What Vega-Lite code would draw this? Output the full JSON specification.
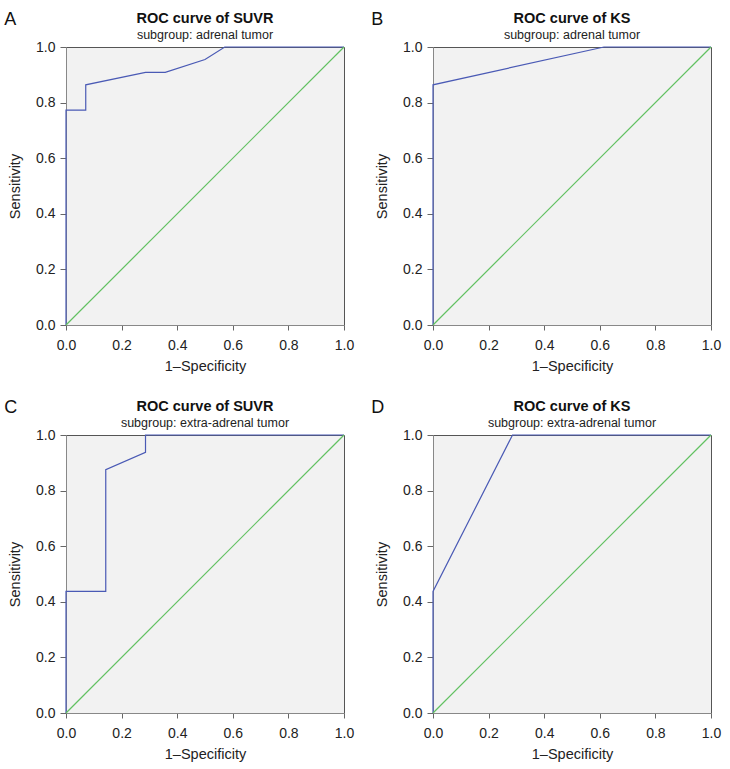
{
  "$schema": "https://vega.github.io/schema/vega-lite/v6.json",
  "padding": {"left": 3, "top": 10, "right": 5, "bottom": 5},
  "background": "white",
  "datasets": {
    "roc": [
      {"panel": "A", "series": "ROC", "step": 1, "fpr": 0, "tpr": 0},
      {"panel": "A", "series": "ROC", "step": 2, "fpr": 0, "tpr": 0.773},
      {"panel": "A", "series": "ROC", "step": 3, "fpr": 0.071, "tpr": 0.773},
      {"panel": "A", "series": "ROC", "step": 4, "fpr": 0.071, "tpr": 0.864},
      {"panel": "A", "series": "ROC", "step": 5, "fpr": 0.286, "tpr": 0.909},
      {"panel": "A", "series": "ROC", "step": 6, "fpr": 0.357, "tpr": 0.909},
      {"panel": "A", "series": "ROC", "step": 7, "fpr": 0.5, "tpr": 0.955},
      {"panel": "A", "series": "ROC", "step": 8, "fpr": 0.571, "tpr": 1},
      {"panel": "A", "series": "ROC", "step": 9, "fpr": 1, "tpr": 1},
      {"panel": "A", "series": "Reference", "step": 1, "fpr": 0, "tpr": 0},
      {"panel": "A", "series": "Reference", "step": 2, "fpr": 1, "tpr": 1},
      {"panel": "B", "series": "ROC", "step": 1, "fpr": 0, "tpr": 0},
      {"panel": "B", "series": "ROC", "step": 2, "fpr": 0, "tpr": 0.864},
      {"panel": "B", "series": "ROC", "step": 3, "fpr": 0.615, "tpr": 1},
      {"panel": "B", "series": "ROC", "step": 4, "fpr": 1, "tpr": 1},
      {"panel": "B", "series": "Reference", "step": 1, "fpr": 0, "tpr": 0},
      {"panel": "B", "series": "Reference", "step": 2, "fpr": 1, "tpr": 1},
      {"panel": "C", "series": "ROC", "step": 1, "fpr": 0, "tpr": 0},
      {"panel": "C", "series": "ROC", "step": 2, "fpr": 0, "tpr": 0.4375},
      {"panel": "C", "series": "ROC", "step": 3, "fpr": 0.143, "tpr": 0.4375},
      {"panel": "C", "series": "ROC", "step": 4, "fpr": 0.143, "tpr": 0.875},
      {"panel": "C", "series": "ROC", "step": 5, "fpr": 0.286, "tpr": 0.9375},
      {"panel": "C", "series": "ROC", "step": 6, "fpr": 0.286, "tpr": 1},
      {"panel": "C", "series": "ROC", "step": 7, "fpr": 1, "tpr": 1},
      {"panel": "C", "series": "Reference", "step": 1, "fpr": 0, "tpr": 0},
      {"panel": "C", "series": "Reference", "step": 2, "fpr": 1, "tpr": 1},
      {"panel": "D", "series": "ROC", "step": 1, "fpr": 0, "tpr": 0},
      {"panel": "D", "series": "ROC", "step": 2, "fpr": 0, "tpr": 0.4375},
      {"panel": "D", "series": "ROC", "step": 3, "fpr": 0.286, "tpr": 1},
      {"panel": "D", "series": "ROC", "step": 4, "fpr": 1, "tpr": 1},
      {"panel": "D", "series": "Reference", "step": 1, "fpr": 0, "tpr": 0},
      {"panel": "D", "series": "Reference", "step": 2, "fpr": 1, "tpr": 1}
    ],
    "letters": [
      {"panel": "A", "label": "A"},
      {"panel": "B", "label": "B"},
      {"panel": "C", "label": "C"},
      {"panel": "D", "label": "D"}
    ]
  },
  "spacing": 25,
  "vconcat": [
    {
      "spacing": 15,
      "hconcat": [
        {
          "width": 278, "height": 278,
          "title": {"text": "ROC curve of SUVR", "subtitle": "subgroup: adrenal tumor"},
          "layer": [
            {
              "data": {"name": "roc"},
              "transform": [{"filter": "datum.panel == 'A'"}],
              "mark": {"type": "line", "strokeWidth": 1.2},
              "encoding": {
                "x": {"field": "fpr", "type": "quantitative", "scale": {"domain": [0, 1]}, "axis": {"title": "1\u2013Specificity", "values": [0, 0.2, 0.4, 0.6, 0.8, 1], "format": ".1f"}},
                "y": {"field": "tpr", "type": "quantitative", "scale": {"domain": [0, 1]}, "axis": {"title": "Sensitivity", "values": [0, 0.2, 0.4, 0.6, 0.8, 1], "format": ".1f"}},
                "color": {"field": "series", "type": "nominal", "scale": {"domain": ["ROC", "Reference"], "range": ["#4a5ab5", "#62c162"]}, "legend": null},
                "order": {"field": "step", "type": "quantitative"}
              }
            },
            {
              "data": {"name": "letters"},
              "transform": [{"filter": "datum.panel == 'A'"}],
              "mark": {"type": "text", "align": "left", "baseline": "alphabetic", "fontSize": 18, "color": "#111"},
              "encoding": {
                "x": {"datum": -0.222},
                "y": {"datum": 1.08},
                "text": {"field": "label"}
              }
            }
          ]
        },
        {
          "width": 278, "height": 278,
          "title": {"text": "ROC curve of KS", "subtitle": "subgroup: adrenal tumor"},
          "layer": [
            {
              "data": {"name": "roc"},
              "transform": [{"filter": "datum.panel == 'B'"}],
              "mark": {"type": "line", "strokeWidth": 1.2},
              "encoding": {
                "x": {"field": "fpr", "type": "quantitative", "scale": {"domain": [0, 1]}, "axis": {"title": "1\u2013Specificity", "values": [0, 0.2, 0.4, 0.6, 0.8, 1], "format": ".1f"}},
                "y": {"field": "tpr", "type": "quantitative", "scale": {"domain": [0, 1]}, "axis": {"title": "Sensitivity", "values": [0, 0.2, 0.4, 0.6, 0.8, 1], "format": ".1f"}},
                "color": {"field": "series", "type": "nominal", "scale": {"domain": ["ROC", "Reference"], "range": ["#4a5ab5", "#62c162"]}, "legend": null},
                "order": {"field": "step", "type": "quantitative"}
              }
            },
            {
              "data": {"name": "letters"},
              "transform": [{"filter": "datum.panel == 'B'"}],
              "mark": {"type": "text", "align": "left", "baseline": "alphabetic", "fontSize": 18, "color": "#111"},
              "encoding": {
                "x": {"datum": -0.222},
                "y": {"datum": 1.08},
                "text": {"field": "label"}
              }
            }
          ]
        }
      ]
    },
    {
      "spacing": 15,
      "hconcat": [
        {
          "width": 278, "height": 278,
          "title": {"text": "ROC curve of SUVR", "subtitle": "subgroup: extra-adrenal tumor"},
          "layer": [
            {
              "data": {"name": "roc"},
              "transform": [{"filter": "datum.panel == 'C'"}],
              "mark": {"type": "line", "strokeWidth": 1.2},
              "encoding": {
                "x": {"field": "fpr", "type": "quantitative", "scale": {"domain": [0, 1]}, "axis": {"title": "1\u2013Specificity", "values": [0, 0.2, 0.4, 0.6, 0.8, 1], "format": ".1f"}},
                "y": {"field": "tpr", "type": "quantitative", "scale": {"domain": [0, 1]}, "axis": {"title": "Sensitivity", "values": [0, 0.2, 0.4, 0.6, 0.8, 1], "format": ".1f"}},
                "color": {"field": "series", "type": "nominal", "scale": {"domain": ["ROC", "Reference"], "range": ["#6074c4", "#62c162"]}, "legend": null},
                "order": {"field": "step", "type": "quantitative"}
              }
            },
            {
              "data": {"name": "letters"},
              "transform": [{"filter": "datum.panel == 'C'"}],
              "mark": {"type": "text", "align": "left", "baseline": "alphabetic", "fontSize": 18, "color": "#111"},
              "encoding": {
                "x": {"datum": -0.222},
                "y": {"datum": 1.08},
                "text": {"field": "label"}
              }
            }
          ]
        },
        {
          "width": 278, "height": 278,
          "title": {"text": "ROC curve of KS", "subtitle": "subgroup: extra-adrenal tumor"},
          "layer": [
            {
              "data": {"name": "roc"},
              "transform": [{"filter": "datum.panel == 'D'"}],
              "mark": {"type": "line", "strokeWidth": 1.2},
              "encoding": {
                "x": {"field": "fpr", "type": "quantitative", "scale": {"domain": [0, 1]}, "axis": {"title": "1\u2013Specificity", "values": [0, 0.2, 0.4, 0.6, 0.8, 1], "format": ".1f"}},
                "y": {"field": "tpr", "type": "quantitative", "scale": {"domain": [0, 1]}, "axis": {"title": "Sensitivity", "values": [0, 0.2, 0.4, 0.6, 0.8, 1], "format": ".1f"}},
                "color": {"field": "series", "type": "nominal", "scale": {"domain": ["ROC", "Reference"], "range": ["#4a5ab5", "#62c162"]}, "legend": null},
                "order": {"field": "step", "type": "quantitative"}
              }
            },
            {
              "data": {"name": "letters"},
              "transform": [{"filter": "datum.panel == 'D'"}],
              "mark": {"type": "text", "align": "left", "baseline": "alphabetic", "fontSize": 18, "color": "#111"},
              "encoding": {
                "x": {"datum": -0.222},
                "y": {"datum": 1.08},
                "text": {"field": "label"}
              }
            }
          ]
        }
      ]
    }
  ],
  "config": {
    "font": "Liberation Sans",
    "view": {"fill": "#f2f2f2", "stroke": "#555555", "strokeWidth": 1},
    "axis": {
      "grid": false,
      "domainColor": "#888888",
      "tickColor": "#666666",
      "tickSize": 6,
      "labelFontSize": 14,
      "labelColor": "#222222",
      "labelPadding": 5,
      "labelFlush": false,
      "titleFontSize": 14.5,
      "titleFontWeight": "normal",
      "titleColor": "#222222"
    },
    "axisX": {"tickSize": 5, "labelPadding": 8, "titlePadding": 7},
    "axisY": {"titlePadding": 13},
    "title": {"fontSize": 14.5, "fontWeight": "bold", "color": "#111111", "subtitleFontSize": 12.5, "subtitleColor": "#222222", "subtitlePadding": 3, "offset": -32}
  }
}
